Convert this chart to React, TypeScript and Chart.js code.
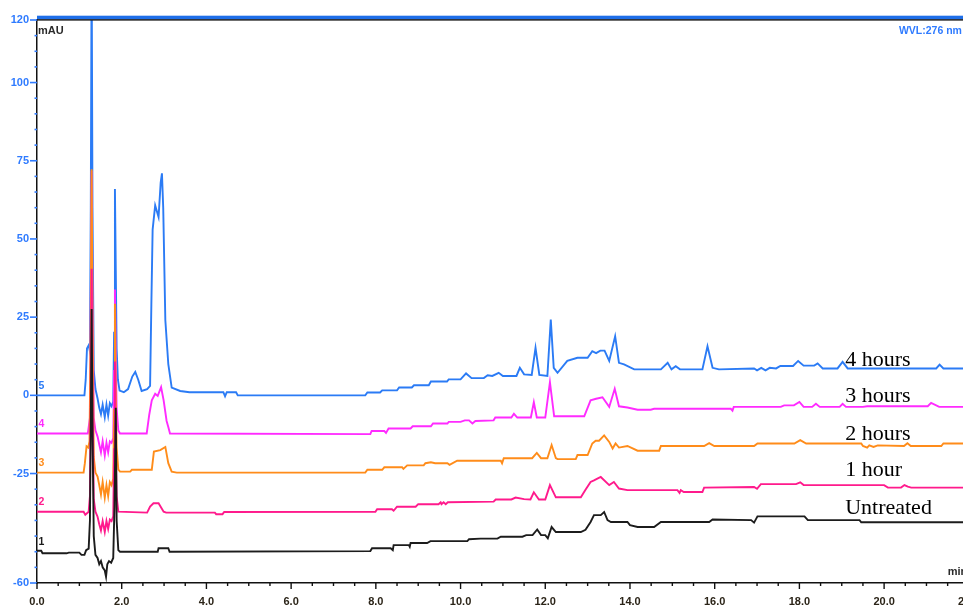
import React, { useEffect, useRef } from "react";
import { Chart, registerables } from "chart.js";

Chart.register(...registerables);

// ---- data ----
const traceNames = ["Untreated", "1 hour", "2 hours", "3 hours", "4 hours"];
const traceNumbers = ["1", "2", "3", "4", "5"];
const traceOffsets = [-50, -37.2, -24.7, -12.2, 0];
const traceColors = ["#1c1c1c", "#ff1a8c", "#ff8c1a", "#ff2bff", "#2b7bf5"];
const labelLevels = [-38.0, -25.8, -14.3, -2.1, 9.4];
const labelTime = 19.08;
const xTicks = [0, 2, 4, 6, 8, 10, 12, 14, 16, 18, 20, 22];
const yTicks = [-60, -25, 0, 25, 50, 75, 100, 120];
const xMin = 0;
const xMax = 22.5;
const yMin = -60;
const yMax = 120;

const untreated: number[][] = [
  [0, 0.3], [0.1, 0.3], [0.13, -0.5], [0.7, -0.5], [0.75, -0.3], [1.0, -0.3], [1.05, -1], [1.12, -1],
  [1.16, 0.5], [1.22, 1], [1.25, 10], [1.27, 40], [1.29, 77.6], [1.31, 40], [1.34, 5], [1.38, -1],
  [1.43, -2], [1.47, -4], [1.51, -3], [1.55, -5], [1.6, -6], [1.63, -8], [1.66, -4], [1.7, -3],
  [1.75, -3.5], [1.8, -2], [1.83, 15], [1.86, 46], [1.88, 10], [1.92, 0.5], [1.96, 0], [2.85, 0],
  [2.87, 1.1], [3.1, 1.1], [3.13, 0], [7.87, 0.2], [7.91, 1.1], [8.35, 1.1], [8.4, 0.5], [8.42, 2.1],
  [8.78, 2.1], [8.8, 1.6], [8.82, 2.8], [9.21, 2.8], [9.29, 3.4], [10.16, 3.4], [10.2, 4.0], [10.47, 4.2],
  [10.87, 4.2], [10.95, 4.8], [11.46, 4.8], [11.55, 5.3], [11.7, 5.3], [11.81, 7.1], [11.9, 5.3], [12.0, 5.3],
  [12.06, 4.3], [12.15, 7.9], [12.25, 6.3], [12.84, 6.3], [12.95, 7], [13.07, 9.5], [13.15, 11.7], [13.31, 11.7],
  [13.39, 12.7], [13.47, 10.1], [13.55, 9.5], [13.94, 9.5], [14.0, 8.5], [14.18, 7.9], [14.57, 7.9], [14.73, 9.5],
  [15.87, 9.5], [15.95, 10.3], [16.86, 10.1], [16.93, 9.3], [17.01, 11.3], [18.12, 11.3], [18.2, 10.1], [19.42, 10.1],
  [19.46, 9.4], [22.5, 9.4],
];

const oneHour: number[][] = [
  [0, 0], [1.1, 0], [1.14, -1], [1.18, -0.5], [1.22, 0], [1.25, 5], [1.27, 40], [1.29, 77.7], [1.31, 40],
  [1.34, 4], [1.38, 0], [1.43, -1.6], [1.47, -4], [1.51, -6], [1.55, -3], [1.6, -6.5], [1.64, -3], [1.68, -5.5],
  [1.72, -2.5], [1.76, -3], [1.8, -1.5], [1.82, 20], [1.84, 48], [1.86, 20], [1.88, 5], [1.92, 0], [2.6, -0.3],
  [2.67, 1.6], [2.75, 2.7], [2.87, 2.7], [2.99, 0], [3.05, -0.3], [4.2, -0.3], [4.23, -0.8], [4.38, -0.8],
  [4.42, -0.1], [7.99, 0], [8.03, 0.8], [8.38, 0.8], [8.42, 0.3], [8.5, 1.6], [8.94, 1.6], [9.0, 2.4], [9.48, 2.4],
  [9.53, 3.0], [9.55, 2.4], [9.6, 3.0], [9.65, 2.4], [9.7, 3.0], [10.78, 3.2], [10.83, 3.9], [11.2, 3.9],
  [11.3, 4.5], [11.5, 4.0], [11.65, 3.9], [11.73, 6.2], [11.85, 3.9], [12.0, 3.9], [12.11, 8.5], [12.25, 4.6],
  [12.84, 4.6], [12.95, 7], [13.07, 9.5], [13.15, 10], [13.31, 11.1], [13.51, 8.5], [13.62, 9.5], [13.74, 7.4],
  [13.94, 6.9], [15.12, 6.9], [15.17, 6.0], [15.2, 6.9], [15.27, 6.3], [15.71, 6.3], [15.75, 7.7], [16.93, 7.9],
  [17.0, 7.3], [17.09, 8.8], [17.92, 8.8], [18.02, 9.4], [18.1, 8.5], [20.0, 8.5], [20.09, 7.7], [20.4, 7.7],
  [20.48, 8.5], [20.56, 8.0], [20.64, 7.7], [22.5, 7.7],
];

const twoHours: number[][] = [
  [0, 0], [1.1, 0], [1.13, 3], [1.17, 8.4], [1.21, 8], [1.24, 10], [1.27, 50], [1.29, 97], [1.31, 50],
  [1.34, 5], [1.38, 0], [1.43, -1.3], [1.47, -4], [1.51, -7], [1.55, -3], [1.6, -8], [1.64, -4], [1.68, -7.5],
  [1.72, -3], [1.76, -4], [1.8, -2], [1.82, 20], [1.84, 54], [1.86, 25], [1.88, 8], [1.92, 1], [1.96, 0.3],
  [2.2, 0.3], [2.24, 0.9], [2.71, 0.9], [2.76, 6.7], [2.91, 7.2], [3.03, 8.2], [3.1, 3], [3.18, 0.3], [3.3, 0],
  [7.75, 0], [7.8, 0.9], [8.15, 0.9], [8.2, 1.7], [8.62, 1.7], [8.65, 1.2], [8.74, 2.3], [9.13, 2.3], [9.17, 3.0],
  [9.3, 3.3], [9.4, 3.0], [9.69, 3.0], [9.74, 2.5], [9.92, 3.8], [10.95, 3.8], [10.98, 3.0], [11.02, 4.6],
  [11.69, 4.6], [11.8, 6.3], [11.9, 4.6], [12.05, 4.6], [12.15, 8.8], [12.25, 4.6], [12.29, 4.3], [12.72, 4.3],
  [12.76, 5.6], [13.0, 5.6], [13.11, 9.3], [13.19, 10.2], [13.27, 10.2], [13.39, 11.9], [13.51, 9.8], [13.59, 7.7],
  [13.66, 9.3], [13.74, 8.0], [13.94, 8.5], [14.18, 7.0], [14.69, 7.0], [14.73, 8.5], [15.75, 8.5], [15.87, 9.4],
  [15.99, 8.5], [16.93, 8.5], [17.01, 9.3], [17.88, 9.3], [18.02, 10.4], [18.16, 9.3], [19.46, 9.3], [19.5, 8.5],
  [19.6, 8.0], [19.65, 8.7], [19.75, 8.2], [19.85, 8.7], [20.47, 8.5], [20.55, 9.4], [20.63, 8.5], [21.35, 8.5],
  [21.4, 9.3], [22.5, 9.3],
];

const threeHours: number[][] = [
  [0, 0], [1.2, 0], [1.25, 5], [1.27, 40], [1.29, 84], [1.31, 40], [1.34, 5], [1.38, 1], [1.43, -1],
  [1.47, -3.5], [1.51, -6], [1.55, -2.5], [1.6, -7], [1.64, -3], [1.68, -6], [1.72, -2.5], [1.76, -3],
  [1.8, -1.5], [1.82, 20], [1.84, 46], [1.86, 25], [1.88, 8], [1.92, 1], [1.96, 0], [2.59, 0], [2.65, 6],
  [2.71, 10.6], [2.79, 12.7], [2.85, 12], [2.93, 14.8], [2.99, 10.6], [3.06, 4], [3.1, 2.1], [3.14, 0],
  [7.87, -0.2], [7.9, 0.8], [8.2, 0.8], [8.24, 0.2], [8.3, 1.6], [8.82, 1.6], [8.87, 2.3], [9.3, 2.3],
  [9.35, 3.2], [9.69, 3.2], [9.72, 3.7], [10.0, 3.7], [10.1, 4.2], [10.2, 4.2], [10.28, 3.2], [10.35, 4.0],
  [10.78, 4.2], [10.82, 5.1], [11.2, 5.1], [11.26, 6.3], [11.34, 5.1], [11.66, 5.1], [11.73, 10], [11.8, 5.1],
  [12.0, 5.1], [12.11, 16.4], [12.21, 5.5], [12.92, 5.5], [13.07, 10.6], [13.2, 11.1], [13.35, 11.6],
  [13.51, 8.5], [13.64, 14.3], [13.74, 8.7], [13.94, 8.3], [14.18, 7.6], [14.49, 7.6], [14.57, 7.9],
  [16.38, 7.9], [16.42, 7.3], [16.45, 8.5], [17.56, 8.5], [17.64, 9.0], [17.87, 9.0], [18.0, 10.1], [18.1, 8.5],
  [18.3, 8.5], [18.39, 9.5], [18.48, 8.5], [18.95, 8.5], [19.02, 9.5], [19.1, 8.5], [19.5, 8.5], [19.6, 8.7],
  [21.03, 8.7], [21.11, 9.8], [21.3, 8.5], [22.5, 8.5],
];

const fourHours: number[][] = [
  [0, 0], [1.12, 0], [1.15, 5], [1.18, 15], [1.22, 16], [1.25, 14], [1.27, 60], [1.29, 140], [1.31, 60],
  [1.34, 8], [1.38, 2], [1.43, -1], [1.47, -4], [1.51, -6], [1.55, -3], [1.6, -7], [1.64, -3], [1.68, -6.5],
  [1.72, -2.5], [1.76, -3.5], [1.8, -2], [1.82, 20], [1.84, 66], [1.86, 40], [1.88, 15], [1.91, 5], [1.95, 1.5],
  [2.05, 1], [2.15, 2], [2.25, 6], [2.32, 7.5], [2.39, 5], [2.47, 1.4], [2.6, 2], [2.67, 3], [2.7, 29],
  [2.73, 53], [2.79, 60.7], [2.87, 57], [2.92, 68], [2.95, 71], [2.98, 60], [3.03, 24], [3.1, 10], [3.18, 2.5],
  [3.38, 1.4], [3.6, 1], [4.4, 1], [4.44, -0.3], [4.48, 1], [4.7, 1], [4.74, 0], [7.75, 0], [7.8, 0.9],
  [8.1, 0.9], [8.15, 1.6], [8.5, 1.6], [8.55, 2.5], [8.85, 2.5], [8.9, 3.2], [9.25, 3.2], [9.3, 4.4],
  [9.68, 4.4], [9.72, 5.1], [10.0, 5.1], [10.13, 7.0], [10.26, 5.5], [10.55, 5.5], [10.64, 6.4], [10.75, 6.2],
  [10.9, 7.2], [11.0, 6.2], [11.32, 6.2], [11.4, 8.8], [11.5, 6.7], [11.68, 6.5], [11.77, 15.2], [11.86, 6.5],
  [12.05, 6.2], [12.13, 24.2], [12.2, 8.8], [12.29, 7.2], [12.52, 11], [12.76, 12], [13.0, 12], [13.11, 14.1],
  [13.2, 13.5], [13.3, 14.3], [13.4, 14.3], [13.51, 11], [13.65, 18.9], [13.74, 10.4], [13.86, 9.9], [14.1, 8.3],
  [14.73, 8.3], [14.89, 10.4], [14.98, 8.3], [15.08, 9.3], [15.18, 8.3], [15.71, 8.3], [15.83, 15.7], [15.95, 8.8],
  [16.1, 8.3], [16.93, 8.6], [17.0, 8.0], [17.1, 8.8], [17.2, 8.0], [17.3, 8.8], [17.45, 8.6], [17.55, 9.4],
  [17.85, 9.4], [17.97, 11], [18.1, 9.5], [18.35, 9.5], [18.43, 10.2], [18.55, 8.6], [18.9, 8.6], [19.02, 10.7],
  [19.14, 8.6], [21.23, 8.6], [21.31, 9.8], [21.4, 8.6], [22.5, 8.6],
];

const traces = [untreated, oneHour, twoHours, threeHours, fourHours];

const BLUE_TEXT = "#2f7bff";
const SANS = "'Liberation Sans', Arial, sans-serif";

const decorPlugin = {
  id: "decor",
  afterDraw(chart: any) {
    const ctx = chart.ctx;
    const { left, top, bottom } = chart.chartArea;
    const xs = chart.scales.x;
    const ys = chart.scales.y;
    ctx.save();
    // top frame
    ctx.fillStyle = "#1f6fe8";
    ctx.fillRect(left, top - 4.3, chart.width - left, 3.6);
    ctx.fillStyle = "#111";
    ctx.fillRect(left, top - 0.8, chart.width - left, 1.4);
    // y ticks
    ctx.strokeStyle = BLUE_TEXT;
    ctx.lineWidth = 1.6;
    for (let v = yMin; v <= yMax; v += 5) {
      const y = ys.getPixelForValue(v);
      const major = yTicks.includes(v);
      ctx.beginPath();
      ctx.moveTo(left - (major ? 7 : 2.5), y);
      ctx.lineTo(left, y);
      ctx.stroke();
    }
    // x ticks
    ctx.strokeStyle = "#111";
    ctx.lineWidth = 1.4;
    for (let v = xMin; v <= xMax + 1e-6; v += 0.5) {
      const x = xs.getPixelForValue(v);
      const major = Math.abs(v / 2 - Math.round(v / 2)) < 1e-6;
      ctx.beginPath();
      ctx.moveTo(x, bottom);
      ctx.lineTo(x, bottom + (major ? 6 : 3));
      ctx.stroke();
    }
    // unit labels
    ctx.font = `bold 11px ${SANS}`;
    ctx.fillStyle = "#2a2a2a";
    ctx.textAlign = "left";
    ctx.textBaseline = "top";
    ctx.fillText("mAU", left + 1, top + 5);
    ctx.textBaseline = "bottom";
    ctx.fillText("min", xs.getPixelForValue(21.5), bottom - 6);
    ctx.fillStyle = BLUE_TEXT;
    ctx.textBaseline = "top";
    ctx.font = `bold 10.5px ${SANS}`;
    ctx.fillText("WVL:276 nm", xs.getPixelForValue(20.35), top + 6);
    // trace numbers
    ctx.font = `bold 10.5px ${SANS}`;
    ctx.textBaseline = "bottom";
    traceNumbers.forEach((n, i) => {
      ctx.fillStyle = traceColors[i];
      ctx.fillText(n, left + 1.5, ys.getPixelForValue(traceOffsets[i]) - 4);
    });
    // annotations
    ctx.font = "22px 'Liberation Serif', 'Times New Roman', serif";
    ctx.fillStyle = "#000";
    ctx.textBaseline = "alphabetic";
    traceNames.forEach((name, i) => {
      ctx.fillText(name, xs.getPixelForValue(labelTime), ys.getPixelForValue(labelLevels[i]));
    });
    ctx.restore();
  },
};

export default function App() {
  const ref = useRef<HTMLCanvasElement | null>(null);
  useEffect(() => {
    document.body.style.margin = "0";
    const canvas = ref.current;
    if (!canvas) return;
    const datasets = traces.map((pts, i) => ({
      label: traceNames[i],
      data: pts.map(([t, v]) => ({ x: t, y: v + traceOffsets[i] })),
      borderColor: traceColors[i],
      backgroundColor: traceColors[i],
      borderWidth: 1.9,
      pointRadius: 0,
      tension: 0,
      fill: false,
    }));
    const chart = new Chart(canvas, {
      type: "line",
      data: { datasets },
      options: {
        responsive: false,
        animation: false,
        layout: { padding: { top: 20, right: 10, left: 0, bottom: 0 } },
        plugins: { legend: { display: false }, tooltip: { enabled: false } },
        scales: {
          x: {
            type: "linear",
            min: xMin,
            max: xMax,
            afterBuildTicks: (s: any) => {
              s.ticks = xTicks.map((v) => ({ value: v }));
            },
            afterFit: (s: any) => {
              s.height = 27;
            },
            grid: { display: false, drawTicks: false },
            border: { display: true, color: "#111", width: 1.5 },
            ticks: {
              autoSkip: false,
              maxRotation: 0,
              minRotation: 0,
              padding: 12,
              color: "#2b2418",
              font: { family: SANS, size: 11, weight: "bold" },
              callback: (v: any) => Number(v).toFixed(1),
            },
          },
          y: {
            type: "linear",
            min: yMin,
            max: yMax,
            afterBuildTicks: (s: any) => {
              s.ticks = yTicks.map((v) => ({ value: v }));
            },
            afterFit: (s: any) => {
              s.width = 37;
            },
            grid: { display: false, drawTicks: false },
            border: { display: true, color: "#111", width: 1.5 },
            ticks: {
              autoSkip: false,
              padding: 8,
              color: BLUE_TEXT,
              font: { family: SANS, size: 11, weight: "bold" },
              callback: (v: any) => String(v),
            },
          },
        },
      },
      plugins: [decorPlugin],
    });
    return () => chart.destroy();
  }, []);
  return (
    <div style={{ width: 963, height: 610, overflow: "hidden", position: "relative", background: "#fff" }}>
      <canvas ref={ref} width={1000} height={610} style={{ display: "block" }} />
    </div>
  );
}
